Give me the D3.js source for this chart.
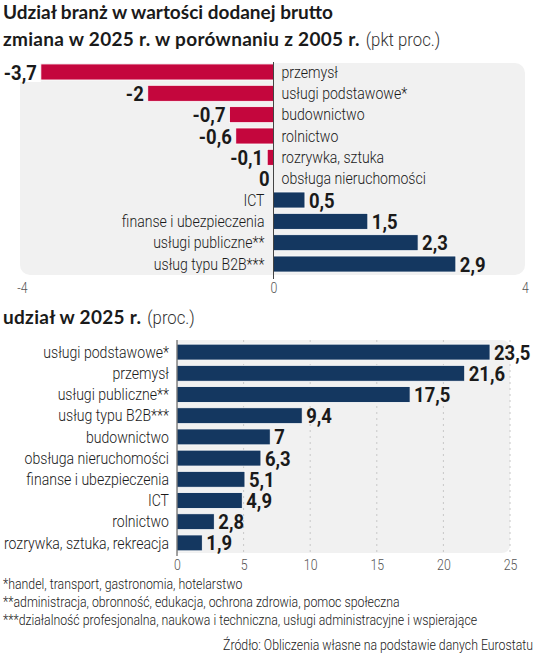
<!DOCTYPE html>
<html>
<head>
<meta charset="utf-8">
<script src="https://cdn.jsdelivr.net/npm/d3@7"></script>
<style>
  body { margin: 0; background: #fff; }
  svg { display: block; }
  .title { font-family: Lato, "Open Sans", sans-serif; font-weight: 700; font-size: 19px; fill: #1a1a1a; }
  .unit { font-family: Roboto, sans-serif; font-weight: 300; font-size: 18px; fill: #333; }
  .cat { font-family: Roboto, sans-serif; font-weight: 300; font-size: 16px; fill: #1a1a1a; }
  .val { font-family: Roboto, sans-serif; font-size: 21px; font-weight: 700; fill: #1a1a1a; }
  .tick text { font-family: Roboto, sans-serif; font-weight: 300; font-size: 14px; fill: #555; }
  .note { font-family: Roboto, sans-serif; font-weight: 300; font-size: 14px; fill: #1a1a1a; }
</style>
</head>
<body>
<svg width="536" height="654"></svg>
<script>
// zmiana 2025 vs 2005 (pkt proc.)
var changeCats = ["przemysł", "usługi podstawowe*", "budownictwo", "rolnictwo", "rozrywka, sztuka",
  "obsługa nieruchomości", "ICT", "finanse i ubezpieczenia", "usługi publiczne**", "usług typu B2B***"];
var changeVals = [-3.7, -2, -0.7, -0.6, -0.1, 0, 0.5, 1.5, 2.3, 2.9];
var changeTicks = [-4, 0, 4];

// udział w 2025 (proc.)
var shareCats = ["usługi podstawowe*", "przemysł", "usługi publiczne**", "usług typu B2B***", "budownictwo",
  "obsługa nieruchomości", "finanse i ubezpieczenia", "ICT", "rolnictwo", "rozrywka, sztuka, rekreacja"];
var shareVals = [23.5, 21.6, 17.5, 9.4, 7, 6.3, 5.1, 4.9, 2.8, 1.9];
var shareTicks = [0, 5, 10, 15, 20, 25];

var footnotes = [
  "*handel, transport, gastronomia, hotelarstwo",
  "**administracja, obronność, edukacja, ochrona zdrowia, pomoc społeczna",
  "***działalność profesjonalna, naukowa i techniczna, usługi administracyjne i wspierające"
];
var source = "Źródło: Obliczenia własne na podstawie danych Eurostatu";

var red = "#c4063d", navy = "#143760", bg = "#f1f1f1";
var narrow = 0.88; // squeeze Roboto to look condensed

var pl = d3.formatLocale({decimal: ",", thousands: " ", grouping: [3], currency: ["", " zł"], minus: "-"});
var fmt = pl.format("");

var svg = d3.select("svg");

// put a text at (x,y) and squeeze it horizontally
function place(sel, fx, fy, sx) {
  sel.attr("transform", function(d, i) {
    return "translate(" + fx(d, i) + "," + fy(d, i) + ") scale(" + sx + ",1)";
  });
}

function titleLine(x, y, bold, unit) {
  var t = svg.append("text").attr("class", "title").attr("x", x).attr("y", y)
      .attr("letter-spacing", 0.3).text(bold);
  var w = t.node().getComputedTextLength();
  svg.append("text").attr("class", "unit")
      .attr("transform", "translate(" + (x + w + 6) + "," + y + ") scale(0.93,1)")
      .text(unit);
}

// titles
svg.append("text").attr("class", "title").attr("x", 3).attr("y", 18.5)
    .text("Udział branż w wartości dodanej brutto");
titleLine(3, 46, "zmiana w 2025 r. w porównaniu z 2005 r.", "(pkt proc.)");

// ---- chart 1: change ----
var x1 = d3.scaleLinear().domain([-4, 4]).range([22, 525]);
var y1 = d3.scaleBand().domain(changeCats).range([61.3, 274.7]).paddingInner(0.25).paddingOuter(0.125);
var g1 = svg.append("g");

g1.append("rect")
    .attr("x", 20).attr("y", 63)
    .attr("width", 505).attr("height", 212)
    .attr("rx", 10).attr("fill", bg);
// white patch behind the first label, as in the original
g1.append("rect")
    .attr("x", 18).attr("y", 60)
    .attr("width", x1(changeVals[0]) - 18).attr("height", y1(changeCats[0]) + y1.bandwidth() + 2 - 60)
    .attr("fill", "#fff");

g1.selectAll(".bar").data(changeVals).enter().append("rect")
    .attr("x", function(d) { return x1(Math.min(0, d)); })
    .attr("y", function(d, i) { return y1(changeCats[i]); })
    .attr("width", function(d) { return Math.abs(x1(d) - x1(0)); })
    .attr("height", y1.bandwidth())
    .attr("fill", function(d) { return d < 0 ? red : navy; })
    .attr("stroke", "#fff").attr("stroke-width", 0.8);

g1.append("line")
    .attr("x1", x1(0)).attr("x2", x1(0))
    .attr("y1", 62).attr("y2", 279)
    .attr("stroke", "#444").attr("stroke-width", 1);

// value labels
var v1 = g1.selectAll(".v").data(changeVals).enter().append("text")
    .attr("class", "val")
    .attr("dy", "0.36em")
    .attr("text-anchor", function(d) { return d > 0 ? "start" : "end"; })
    .text(fmt);
place(v1, function(d) { return d > 0 ? x1(d) + 4 : x1(d) - 4; },
  function(d, i) { return y1(changeCats[i]) + y1.bandwidth() / 2; }, narrow);

// category labels
var c1 = g1.selectAll(".c").data(changeCats).enter().append("text")
    .attr("class", "cat")
    .attr("dy", "0.36em")
    .attr("text-anchor", function(d, i) { return changeVals[i] > 0 ? "end" : "start"; })
    .text(function(d) { return d; });
place(c1, function(d, i) { return changeVals[i] > 0 ? x1(0) - 9 : x1(0) + 8; },
  function(d) { return y1(d) + y1.bandwidth() / 2; }, narrow);

var ax1 = g1.append("g").attr("transform", "translate(0,279)")
    .call(d3.axisBottom(x1).tickValues(changeTicks).tickSize(0).tickPadding(4).tickFormat(fmt));
ax1.select(".domain").remove();
ax1.selectAll(".tick text").attr("transform", "scale(" + narrow + ",1)");

// ---- chart 2: share ----
var x2 = d3.scaleLinear().domain([0, 25]).range([177, 510]);
var y2 = d3.scaleBand().domain(shareCats).range([341.5, 553.5]).paddingInner(0.25).paddingOuter(0.125);
var g2 = svg.append("g");

titleLine(3, 324, "udział w 2025 r.", "(proc.)");

// background with rounded right side
var bx0 = x2(0), bx1 = x2(25), by0 = 340, by1 = 553, r = 9;
g2.append("path")
    .attr("d", "M" + bx0 + "," + by0 + "H" + (bx1 - r) + "Q" + bx1 + "," + by0 + " " + bx1 + "," + (by0 + r) +
      "V" + (by1 - r) + "Q" + bx1 + "," + by1 + " " + (bx1 - r) + "," + by1 + "H" + bx0 + "Z")
    .attr("fill", bg);

g2.selectAll(".grid").data(shareTicks.slice(1)).enter().append("line")
    .attr("x1", function(d) { return x2(d); }).attr("x2", function(d) { return x2(d); })
    .attr("y1", by0).attr("y2", by1)
    .attr("stroke", "#c8c8c8").attr("stroke-width", 1).attr("stroke-dasharray", "2,4");

g2.selectAll(".bar").data(shareVals).enter().append("rect")
    .attr("x", x2(0))
    .attr("y", function(d, i) { return y2(shareCats[i]); })
    .attr("width", function(d) { return x2(d) - x2(0); })
    .attr("height", y2.bandwidth())
    .attr("fill", navy)
    .attr("stroke", "#fff").attr("stroke-width", 0.8);

g2.append("line")
    .attr("x1", x2(0)).attr("x2", x2(0))
    .attr("y1", by0).attr("y2", 556)
    .attr("stroke", "#444").attr("stroke-width", 1);

var v2 = g2.selectAll(".v").data(shareVals).enter().append("text")
    .attr("class", "val")
    .attr("dy", "0.36em")
    .text(fmt);
place(v2, function(d) { return x2(d) + 4; },
  function(d, i) { return y2(shareCats[i]) + y2.bandwidth() / 2; }, narrow);

var c2 = g2.selectAll(".c").data(shareCats).enter().append("text")
    .attr("class", "cat")
    .attr("dy", "0.36em")
    .attr("text-anchor", "end")
    .text(function(d) { return d; });
place(c2, function() { return x2(0) - 8; },
  function(d) { return y2(d) + y2.bandwidth() / 2; }, narrow);

var ax2 = g2.append("g").attr("transform", "translate(0,556)")
    .call(d3.axisBottom(x2).tickValues(shareTicks).tickSize(0).tickPadding(4).tickFormat(fmt));
ax2.select(".domain").remove();
ax2.selectAll(".tick text").attr("transform", "scale(" + narrow + ",1)");

// footnotes + source
var n = svg.selectAll(".note").data(footnotes).enter().append("text")
    .attr("class", "note")
    .text(function(d) { return d; });
place(n, function() { return 3; }, function(d, i) { return 589 + i * 18; }, narrow);

var s = svg.append("text").attr("class", "note")
    .attr("text-anchor", "end")
    .text(source);
place(s, function() { return 533; }, function() { return 650; }, narrow);
</script>
</body>
</html>
